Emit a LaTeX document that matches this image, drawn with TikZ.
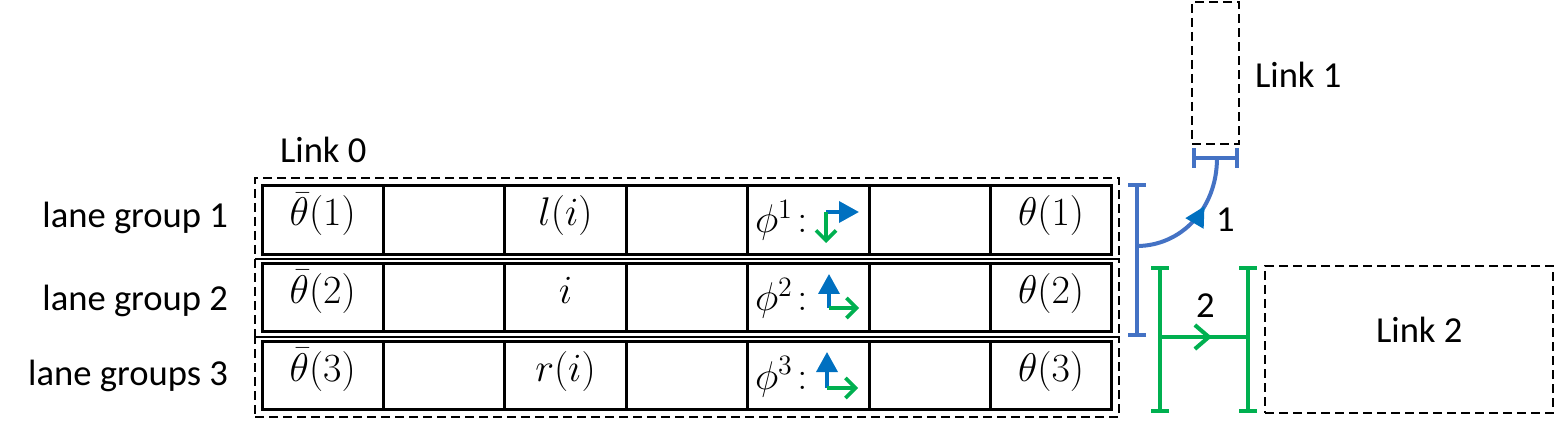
\RequirePackage{fix-cm}
\documentclass[tikz,border=0pt]{standalone}
\usepackage{fontspec}
\newfontfamily\carlito{Carlito}
\usetikzlibrary{arrows.meta,decorations.markings}
\definecolor{phblue}{RGB}{0,112,192}
\definecolor{phgreen}{RGB}{0,176,80}
\definecolor{brblue}{RGB}{68,114,196}
\begin{document}
\begin{tikzpicture}[x=0.5pt,y=-0.5pt,
  cell/.style={draw, line width=1.5pt, minimum width=60.7pt, minimum height=34.2pt,
    inner sep=0pt, outer sep=0pt, text height=0.85em, text depth=0.25em,
    font=\fontsize{20}{24}\selectfont},
  mathtxt/.style={inner sep=0pt, outer sep=0pt, font=\fontsize{20}{24}\selectfont},
  dbox/.style={draw, line width=1.3pt, dash pattern=on 4.5pt off 2.5pt, inner sep=0pt, outer sep=0pt},
  lbl/.style={inner sep=0pt, outer sep=0pt, font=\carlito\fontsize{18.3}{22}\selectfont},
  blueicon/.style={draw=phblue, line width=1.8pt, -{Triangle[length=10pt,width=10.5pt]}},
  greenicon/.style={draw=phgreen, line width=1.8pt, -{Straight Barb[length=5pt,width=10pt]}},
  bbrk/.style={draw=brblue, line width=2pt, {Bar[width=9pt]}-{Bar[width=9pt]}},
  gbrk/.style={draw=phgreen, line width=2pt, {Bar[width=9pt]}-{Bar[width=9pt]}},
]
\useasboundingbox (0,0) rectangle (1558,422);

% lane group dashed boxes (Link 0)
\node[dbox, minimum width=432pt, minimum height=40.5pt] (lg1) at (687,218.5) {};
\node[dbox, minimum width=432pt, minimum height=39pt] (lg2) at (687,298) {};
\node[dbox, minimum width=432pt, minimum height=40pt] (lg3) at (687,377) {};

% cells
\foreach \r/\y/\m in {1/220/l(i),2/297.5/i,3/375.5/r(i)}{
  \node[cell] (c\r-1) at (322.7,\y) {$\bar\theta(\r)$};
  \node[cell] (c\r-2) at (444.1,\y) {};
  \node[cell] (c\r-3) at (565.5,\y) {$\m$};
  \node[cell] (c\r-4) at (686.9,\y) {};
  \node[cell] (c\r-5) at (808.3,\y) {};
  \node[cell] (c\r-6) at (929.7,\y) {};
  \node[cell] (c\r-7) at (1051.1,\y) {$\theta(\r)$};
}
\node[mathtxt, anchor=base west] (p1) at (755,233) {$\phi^{1}\!:$};
\node[mathtxt, anchor=base west] (p2) at (755,311) {$\phi^{2}\!:$};
\node[mathtxt, anchor=base west] (p3) at (755,389) {$\phi^{3}\!:$};

% phase icons
\coordinate (k1) at (826,212); \coordinate (k1b) at (859,212); \coordinate (k1g) at (826,243);
\draw[blueicon] (k1) -- (k1b);
\draw[greenicon] (k1) -- (k1g);
\coordinate (k2) at (829,308); \coordinate (k2b) at (829,274); \coordinate (k2g) at (859,308);
\draw[blueicon] (k2) -- (k2b);
\draw[greenicon] (k2) -- (k2g);
\coordinate (k3) at (827,388); \coordinate (k3b) at (827,352); \coordinate (k3g) at (858,388);
\draw[blueicon] (k3) -- (k3b);
\draw[greenicon] (k3) -- (k3g);

% labels
\node[lbl, anchor=base west] (l0) at (280,163) {Link 0};
\node[lbl, anchor=base east] (lgt1) at (228,228) {lane group 1};
\node[lbl, anchor=base east] (lgt2) at (228,311) {lane group 2};
\node[lbl, anchor=base east] (lgt3) at (228,386) {lane groups 3};

% link 1 and link 2 boxes
\node[dbox, minimum width=23.5pt, minimum height=71pt] (link1) at (1215.5,73) {};
\node[lbl, anchor=base west] (l1) at (1255,88) {Link 1};
\node[dbox, minimum width=144pt, minimum height=73.5pt] (link2) at (1409,339.5) {};
\node[lbl, anchor=base west] (l2) at (1376,343) {Link 2};

% movement 1 (blue)
\coordinate (bt) at (1137,183); \coordinate (bb) at (1137,337);
\draw[bbrk] (bt) -- (bb);
\coordinate (tl) at (1192,158); \coordinate (tr) at (1239,158);
\draw[draw=brblue, line width=2pt, {Bar[width=10pt]}-{Bar[width=10pt]}] (tl) -- (tr);
\coordinate (cs) at (1137,246); \coordinate (ce) at (1217,158);
\draw[brblue, line width=2pt, postaction={decorate},
  decoration={markings, mark=at position 0.62 with {\arrow[phblue]{Triangle[length=10pt,width=10pt]}}}]
  (cs) .. controls (1180,246) and (1217,210) .. (ce);
\node[lbl, anchor=base west] (n1) at (1216,232) {1};

% movement 2 (green)
\coordinate (g1t) at (1160,266); \coordinate (g1b) at (1160,413);
\coordinate (g2t) at (1248,266); \coordinate (g2b) at (1248,413);
\draw[gbrk] (g1t) -- (g1b);
\draw[gbrk] (g2t) -- (g2b);
\coordinate (gm1) at (1160,337); \coordinate (gm2) at (1248,337);
\draw[phgreen, line width=2pt, postaction={decorate},
  decoration={markings, mark=at position 0.59 with {\arrow[phgreen, line width=2pt]{Straight Barb[length=7pt,width=12pt]}}}]
  (gm1) -- (gm2);
\node[lbl, anchor=base west] (n2) at (1196,317) {2};
\end{tikzpicture}
\end{document}
